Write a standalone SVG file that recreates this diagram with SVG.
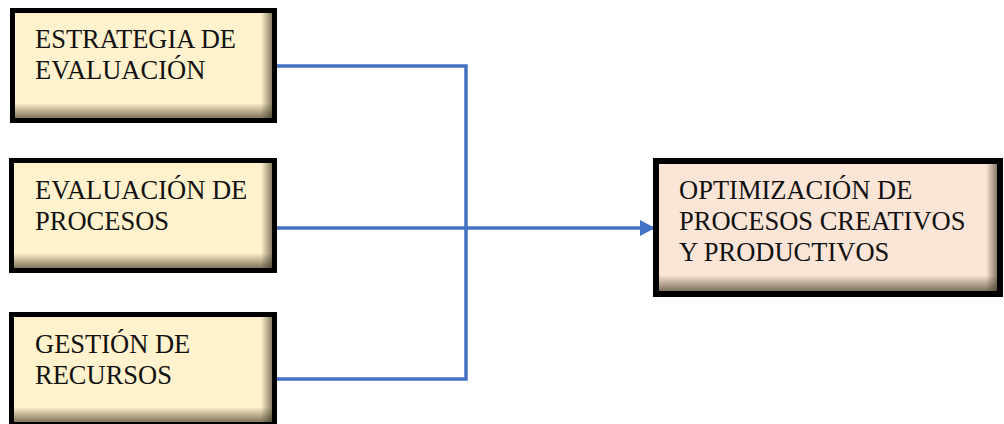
<svg xmlns="http://www.w3.org/2000/svg" width="1004" height="424" viewBox="0 0 1004 424">
  <style>
    .frame { stroke: #000; stroke-width: 5; }
    .cream { fill: #FFF2CC; }
    .peach { fill: #FBE5D6; }
    .label { font-family: "Liberation Serif", "Times New Roman", serif; font-size: 26.5px; fill: #111; }
    .link { fill: none; stroke: #4472C4; stroke-width: 3.5; }
  </style>
  <defs>
    <!-- inner shading along the bottom and right edges of each box -->
    <linearGradient id="shadeBottom" x1="0" y1="0" x2="0" y2="1">
      <stop offset="0" stop-color="#3c3220" stop-opacity="0"/>
      <stop offset="1" stop-color="#3c3220" stop-opacity="0.65"/>
    </linearGradient>
    <linearGradient id="shadeRight" x1="0" y1="0" x2="1" y2="0">
      <stop offset="0" stop-color="#3c3220" stop-opacity="0"/>
      <stop offset="1" stop-color="#3c3220" stop-opacity="0.6"/>
    </linearGradient>
    <marker id="arrow" markerUnits="userSpaceOnUse" markerWidth="16" markerHeight="18" refX="15" refY="8" orient="auto">
      <path d="M0,0 L15,8 L0,16 Z" fill="#4472C4"/>
    </marker>
  </defs>

  <g id="connectors">
    <path class="link" d="M277,66 H466 V228"/>
    <path class="link" d="M277,379 H466 V228"/>
    <path class="link" d="M277,228 H655" marker-end="url(#arrow)"/>
  </g>

  <g id="estrategia">
    <rect class="cream" x="12.5" y="10.5" width="262" height="110"/>
    <rect x="15" y="103" width="257" height="15" fill="url(#shadeBottom)"/>
    <rect x="261" y="13" width="11" height="105" fill="url(#shadeRight)"/>
    <rect class="frame" fill="none" x="12.5" y="10.5" width="262" height="110"/>
    <text class="label"><tspan x="35" y="48">ESTRATEGIA DE</tspan><tspan x="35" y="79">EVALUACIÓN</tspan></text>
  </g>

  <g id="evaluacion">
    <rect class="cream" x="11.5" y="160.5" width="263" height="110"/>
    <rect x="14" y="253" width="258" height="15" fill="url(#shadeBottom)"/>
    <rect x="261" y="163" width="11" height="105" fill="url(#shadeRight)"/>
    <rect class="frame" fill="none" x="11.5" y="160.5" width="263" height="110"/>
    <text class="label"><tspan x="35" y="199">EVALUACIÓN DE</tspan><tspan x="35" y="230">PROCESOS</tspan></text>
  </g>

  <g id="gestion">
    <rect class="cream" x="11.5" y="314.5" width="263" height="110"/>
    <rect x="14" y="407" width="258" height="15" fill="url(#shadeBottom)"/>
    <rect x="261" y="317" width="11" height="105" fill="url(#shadeRight)"/>
    <rect class="frame" fill="none" x="11.5" y="314.5" width="263" height="110"/>
    <text class="label"><tspan x="35" y="353">GESTIÓN DE</tspan><tspan x="35" y="384">RECURSOS</tspan></text>
  </g>

  <g id="optimizacion">
    <rect class="peach" x="656" y="161" width="344" height="133"/>
    <rect x="659" y="275" width="338" height="16" fill="url(#shadeBottom)"/>
    <rect x="986" y="164" width="11" height="127" fill="url(#shadeRight)"/>
    <rect fill="none" stroke="#000" stroke-width="6" x="656" y="161" width="344" height="133"/>
    <text class="label"><tspan x="679" y="199">OPTIMIZACIÓN DE</tspan><tspan x="679" y="230">PROCESOS CREATIVOS</tspan><tspan x="679" y="261">Y PRODUCTIVOS</tspan></text>
  </g>
</svg>
